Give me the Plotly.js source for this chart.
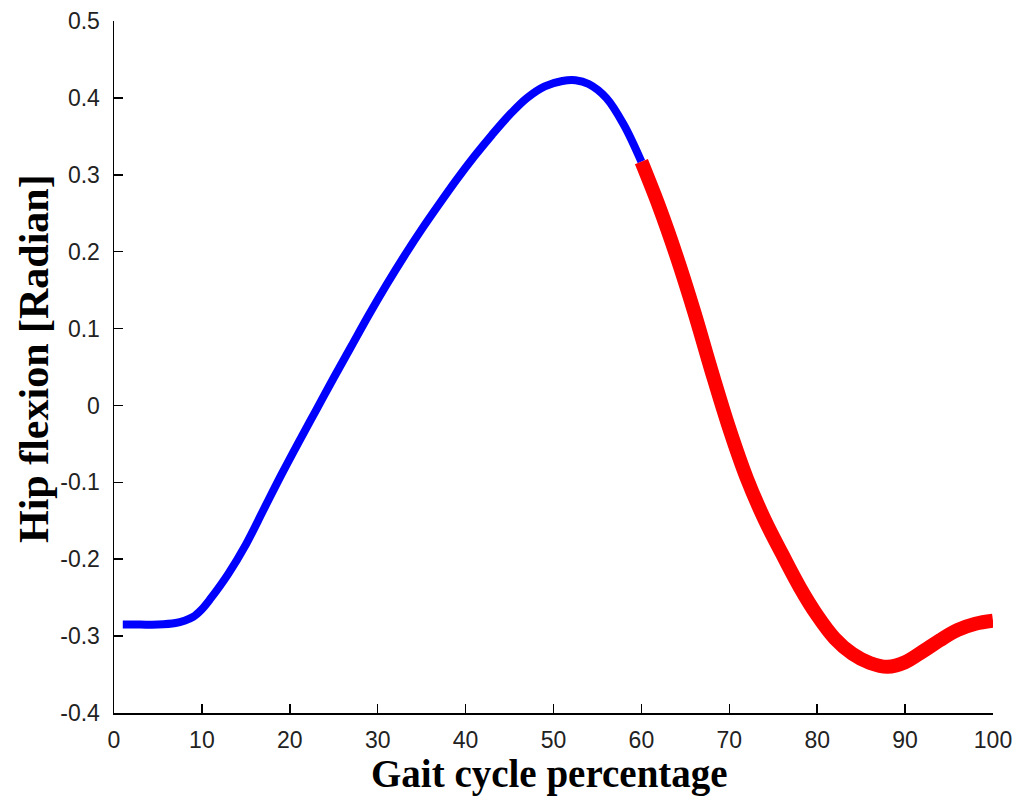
<!DOCTYPE html>
<html>
<head>
<meta charset="utf-8">
<script src="https://cdn.plot.ly/plotly-3.0.1.min.js"></script>
<style>html,body{margin:0;padding:0;background:#fff;}#chart{width:1017px;height:800px;}</style>
</head>
<body>
<div id="chart"></div>
<script>
// Stance phase (blue)
var stanceX = [1, 3, 5, 7, 8, 9, 10, 11, 13, 15, 17, 19, 21, 23, 25, 27, 29, 31, 33, 35, 37, 39, 41, 43, 45, 47, 49, 51, 52.5, 54, 56, 58, 60];
var stanceY = [-0.285, -0.285, -0.285, -0.283, -0.280, -0.275, -0.265, -0.251, -0.219, -0.181, -0.136, -0.091, -0.048, -0.006, 0.036, 0.077, 0.118, 0.157, 0.194, 0.229, 0.262, 0.294, 0.324, 0.352, 0.378, 0.400, 0.415, 0.422, 0.423, 0.418, 0.400, 0.365, 0.317];
// Swing phase (red)
var swingX = [60, 62, 64, 66, 68, 70, 72, 74, 76, 78, 80, 82, 84, 86, 88, 90, 92, 94, 96, 98, 100];
var swingY = [0.317, 0.259, 0.194, 0.122, 0.044, -0.030, -0.095, -0.148, -0.193, -0.236, -0.273, -0.303, -0.323, -0.335, -0.340, -0.334, -0.320, -0.305, -0.292, -0.284, -0.280];

var xTicks = [0, 10, 20, 30, 40, 50, 60, 70, 80, 90, 100];
var xTickText = ['0', '10', '20', '30', '40', '50', '60', '70', '80', '90', '100'];
var yTicks = [-0.4, -0.3, -0.2, -0.1, 0, 0.1, 0.2, 0.3, 0.4, 0.5];
var yTickText = ['-0.4', '-0.3', '-0.2', '-0.1', '0', '0.1', '0.2', '0.3', '0.4', '0.5'];

var xTitle = 'Gait cycle percentage';
var yTitle = 'Hip flexion [Radian]';

var traces = [
  {x: stanceX, y: stanceY, mode: 'lines', line: {color: '#0000ff', width: 8, shape: 'spline', smoothing: 1}, hoverinfo: 'skip'},
  {x: swingX, y: swingY, mode: 'lines', line: {color: '#ff0000', width: 14, shape: 'spline', smoothing: 1}, hoverinfo: 'skip'}
];

var tickFont = {family: 'Liberation Sans, Arial, sans-serif', size: 23, color: '#222'};
var xTitleFont = {family: 'Liberation Serif, Times New Roman, serif', size: 39, color: '#000'};
var yTitleFont = {family: 'Liberation Serif, Times New Roman, serif', size: 42, color: '#000'};

var layout = {
  width: 1017, height: 800,
  margin: {l: 114, r: 24, t: 21, b: 87, pad: 0},
  paper_bgcolor: '#fff', plot_bgcolor: '#fff',
  showlegend: false,
  xaxis: {
    range: [0, 100], tickvals: xTicks, ticktext: xTickText,
    ticks: 'inside', ticklen: 9, tickwidth: 1.5, tickcolor: '#000',
    showline: true, linecolor: '#000', linewidth: 1.5, mirror: false,
    showgrid: false, zeroline: false, tickfont: tickFont, ticklabelstandoff: 6,
    fixedrange: true
  },
  yaxis: {
    range: [-0.4, 0.5], tickvals: yTicks, ticktext: yTickText,
    ticks: 'inside', ticklen: 9, tickwidth: 1.5, tickcolor: '#000',
    showline: true, linecolor: '#000', linewidth: 1.5, mirror: false,
    showgrid: false, zeroline: false, tickfont: tickFont, ticklabelstandoff: 8,
    fixedrange: true
  },
  annotations: [
    {text: '<b>' + xTitle + '</b>', xref: 'paper', yref: 'paper', x: 0.5, y: 0, xanchor: 'center', yanchor: 'middle', xshift: -4, yshift: -61, showarrow: false, font: xTitleFont},
    {text: '<b>' + yTitle + '</b>', xref: 'paper', yref: 'paper', x: 0, y: 0.5, xanchor: 'center', yanchor: 'middle', xshift: -80, yshift: 8, textangle: -90, showarrow: false, font: yTitleFont}
  ]
};

Plotly.newPlot('chart', traces, layout, {staticPlot: true, displayModeBar: false});
</script>
</body>
</html>
